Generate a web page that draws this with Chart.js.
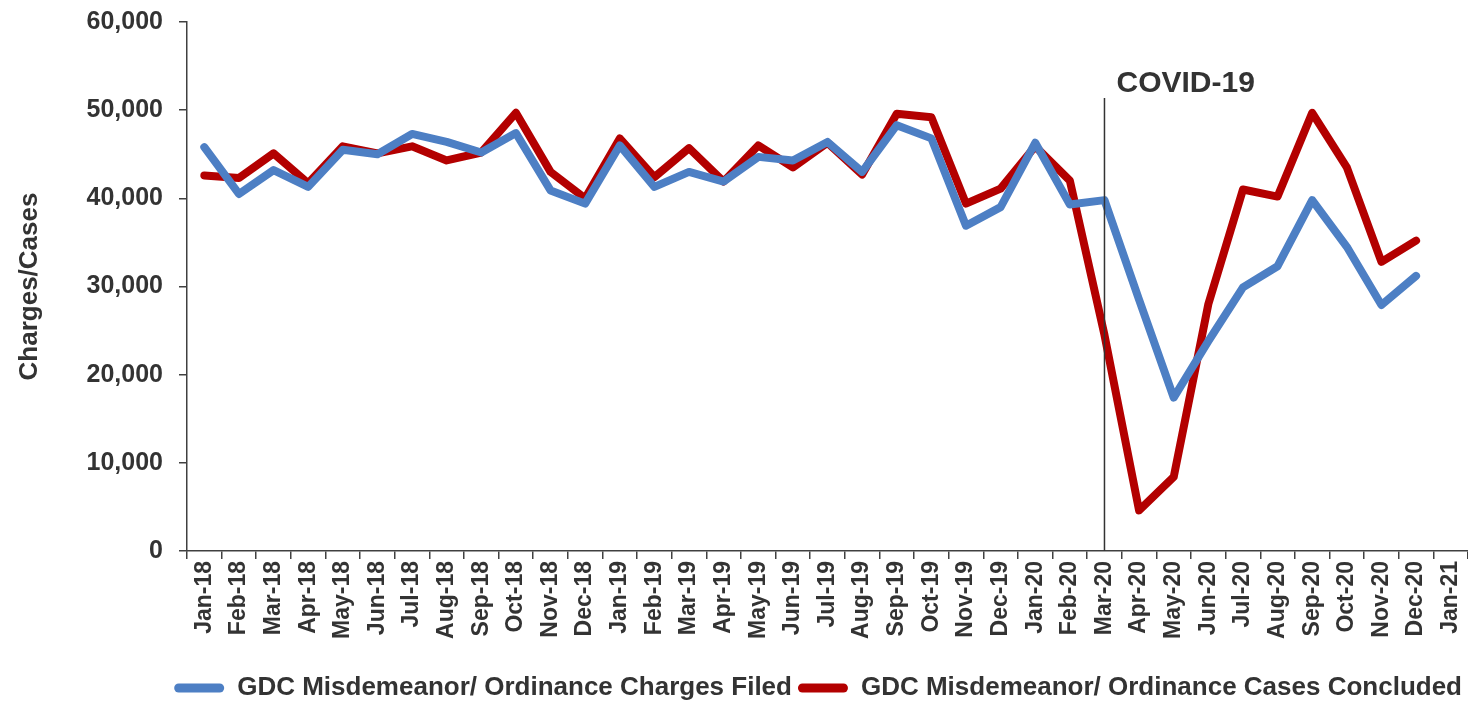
<!DOCTYPE html>
<html>
<head>
<meta charset="utf-8">
<script src="https://cdn.jsdelivr.net/npm/chart.js@4.4.0/dist/chart.umd.min.js"></script>
<style>
  html, body { margin: 0; padding: 0; background: #fff; }
  #wrap { width: 1468px; height: 702px; }
</style>
</head>
<body>
<div id="wrap"><canvas id="chart"></canvas></div>
<script>
// Months on the x axis (Jan-21 has no data)
var months = ['Jan-18','Feb-18','Mar-18','Apr-18','May-18','Jun-18','Jul-18','Aug-18','Sep-18','Oct-18','Nov-18','Dec-18',
              'Jan-19','Feb-19','Mar-19','Apr-19','May-19','Jun-19','Jul-19','Aug-19','Sep-19','Oct-19','Nov-19','Dec-19',
              'Jan-20','Feb-20','Mar-20','Apr-20','May-20','Jun-20','Jul-20','Aug-20','Sep-20','Oct-20','Nov-20','Dec-20',
              'Jan-21'];

var chargesFiled = [45800, 40500, 43200, 41300, 45500, 45000, 47300, 46400, 45200, 47400, 40900, 39400,
                    46000, 41300, 43000, 41900, 44700, 44300, 46400, 43000, 48300, 46800, 36900, 39000,
                    46300, 39300, 39800, 28500, 17400, 23800, 29900, 32300, 39800, 34500, 27900, 31200];

var casesConcluded = [42600, 42300, 45100, 41700, 45900, 45100, 45900, 44300, 45200, 49700, 43000, 40000,
                      46800, 42400, 45700, 41900, 46000, 43500, 46300, 42700, 49600, 49200, 39400, 41100,
                      45900, 42000, 24500, 4600, 8400, 28000, 41000, 40200, 49700, 43500, 32800, 35200];

var yTicks = [0, 10000, 20000, 30000, 40000, 50000, 60000];

var covidMonth = 'Mar-20';
var covidLabel = 'COVID-19';

var textColor = '#333333';
var fontFamily = '"Liberation Sans", Arial, sans-serif';

// vertical marker line with its label
var covidMarker = {
    id: 'covidMarker',
    afterDatasetsDraw: function(chart) {
        var ctx = chart.ctx;
        var x = chart.scales.x.getPixelForValue(months.indexOf(covidMonth));
        var bottom = chart.chartArea.bottom;
        ctx.save();
        ctx.strokeStyle = '#333333';
        ctx.lineWidth = 1.5;
        ctx.beginPath();
        ctx.moveTo(x, 98);
        ctx.lineTo(x, bottom);
        ctx.stroke();
        ctx.fillStyle = textColor;
        ctx.font = 'bold 30px ' + fontFamily;
        ctx.textAlign = 'left';
        ctx.textBaseline = 'alphabetic';
        ctx.fillText(covidLabel, x + 12, 92);
        ctx.restore();
    }
};

var ctx = document.getElementById('chart').getContext('2d');
new Chart(ctx, {
    type: 'line',
    data: {
        labels: months,
        datasets: [{
            label: 'GDC Misdemeanor/ Ordinance Charges Filed',
            data: chargesFiled,
            borderColor: '#4d7fc4',
            backgroundColor: '#4d7fc4',
            borderWidth: 8,
            borderJoinStyle: 'round',
            borderCapStyle: 'round',
            pointRadius: 0,
            tension: 0
        }, {
            label: 'GDC Misdemeanor/ Ordinance Cases Concluded',
            data: casesConcluded,
            borderColor: '#b30000',
            backgroundColor: '#b30000',
            borderWidth: 8,
            borderJoinStyle: 'round',
            borderCapStyle: 'round',
            pointRadius: 0,
            tension: 0
        }]
    },
    options: {
        responsive: true,
        maintainAspectRatio: false,
        animation: false,
        layout: { padding: { top: 22, right: 0, left: 0, bottom: -9 } },
        plugins: {
            tooltip: { enabled: false },
            legend: {
                position: 'bottom',
                align: 'end',
                labels: {
                    color: textColor,
                    font: { family: fontFamily, size: 26, weight: 'bold' },
                    boxWidth: 50,
                    boxHeight: 9,
                    padding: 6,
                    useBorderRadius: true,
                    borderRadius: 4.5,
                    generateLabels: function(chart) {
                        return Chart.defaults.plugins.legend.labels.generateLabels(chart).map(function(l) {
                            l.lineWidth = 0;
                            return l;
                        });
                    }
                }
            }
        },
        scales: {
            x: {
                offset: true,
                grid: { offset: true, drawOnChartArea: false, tickLength: 8, color: '#404040', lineWidth: 1.5 },
                border: { color: '#404040', width: 1.5 },
                ticks: {
                    color: textColor,
                    font: { family: fontFamily, size: 23, weight: 'bold' },
                    minRotation: 90,
                    maxRotation: 90,
                    autoSkip: false,
                    padding: 2
                },
                afterFit: function(scale) {
                    scale.height = 118;
                    scale.paddingLeft = 0;
                    scale.paddingRight = 0;
                }
            },
            y: {
                min: 0,
                max: 60000,
                afterBuildTicks: function(scale) {
                    scale.ticks = yTicks.map(function(v) { return { value: v }; });
                },
                grid: { drawOnChartArea: false, tickLength: 8, color: '#404040', lineWidth: 1.5 },
                border: { color: '#404040', width: 1.5 },
                ticks: {
                    color: textColor,
                    font: { family: fontFamily, size: 25, weight: 'bold' },
                    padding: 16,
                    callback: function(v) { return v.toLocaleString('en-US'); }
                },
                title: {
                    display: true,
                    text: 'Charges/Cases',
                    color: textColor,
                    font: { family: fontFamily, size: 26, weight: 'bold' },
                    padding: { top: 14, bottom: 4 }
                },
                afterFit: function(scale) {
                    scale.width = 187;
                    scale.paddingTop = 0;
                    scale.paddingBottom = 0;
                }
            }
        }
    },
    plugins: [covidMarker]
});
</script>
</body>
</html>
